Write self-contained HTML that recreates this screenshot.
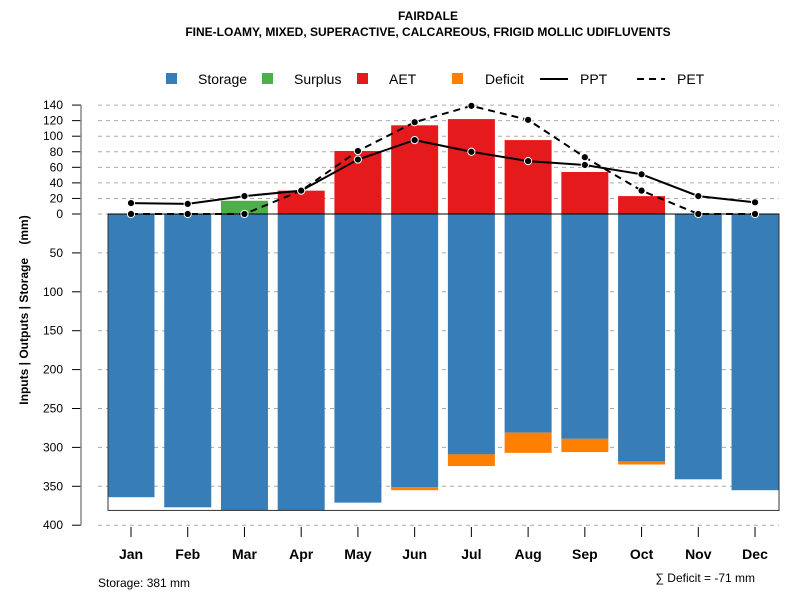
<!DOCTYPE html>
<html><head><meta charset="utf-8"><style>
body{margin:0;background:#fff}
svg{font-family:"Liberation Sans",Arial,sans-serif}
</style></head><body>
<svg id="c" width="800" height="600">
<text x="428" y="20" text-anchor="middle" font-size="12" font-weight="bold">FAIRDALE</text>
<text x="428" y="36" text-anchor="middle" font-size="12" font-weight="bold">FINE-LOAMY, MIXED, SUPERACTIVE, CALCAREOUS, FRIGID MOLLIC UDIFLUVENTS</text>
<g id="legend" font-size="14">
<rect x="166" y="73" width="11" height="11" fill="#377EB8"/><text x="198" y="84">Storage</text>
<rect x="262" y="73" width="11" height="11" fill="#4DAF4A"/><text x="294" y="84">Surplus</text>
<rect x="357" y="73" width="11" height="11" fill="#E41A1C"/><text x="389" y="84">AET</text>
<rect x="452" y="73" width="11" height="11" fill="#FF7F00"/><text x="485" y="84">Deficit</text>
<line x1="540" y1="79" x2="568" y2="79" stroke="#000" stroke-width="2"/><text x="580" y="84">PPT</text>
<line x1="637" y1="79" x2="665" y2="79" stroke="#000" stroke-width="2" stroke-dasharray="7,5"/><text x="677" y="84">PET</text>
</g>
<g id="g"></g>
<text transform="translate(28,310) rotate(-90)" text-anchor="middle" font-size="12" font-weight="bold">Inputs | Outputs | Storage&#160;&#160;&#160;&#160;(mm)</text>
<text x="98" y="587" font-size="12">Storage: 381 mm</text>
<text x="755" y="582" text-anchor="end" font-size="12">∑ Deficit = -71 mm</text>
</svg>
<script>
const months=["Jan","Feb","Mar","Apr","May","Jun","Jul","Aug","Sep","Oct","Nov","Dec"];
const storage=[364,377,381,381,371,351,309,281,289,318,341,355];
const deficit=[0,0,0,0,0,4,15,26,17,4,0,0];
const surplus=[0,0,17,0,0,0,0,0,0,0,0,0];
const aet=[0,0,0,30,81,114,122,95,54,23,0,0];
const ppt=[14,13,23,30,70,95,80,68,63,51,23,15];
const pet=[0,0,0,30,81,118,139,121,73,30,0,0];
const posTicks=[0,20,40,60,80,100,120,140];
const negTicks=[50,100,150,200,250,300,350,400];
const NS="http://www.w3.org/2000/svg",g=document.getElementById('g');
const y0=214,k=0.778;
const Y=v=>y0-v*k;
const X=i=>131+i*56.73;
const bw=47;
function el(t,a,name){const e=document.createElementNS(NS,t);for(const q in a)e.setAttribute(q,a[q]);


g.appendChild(e);return e;}
posTicks.forEach(v=>{el('line',{x1:98,x2:779,y1:Y(v),y2:Y(v),stroke:'#aaa','stroke-dasharray':'4,4'},'grid-line');
el('line',{x1:72,x2:81,y1:Y(v),y2:Y(v),stroke:'#000'},'y-tick');
const t=el('text',{x:63,y:Y(v)+4,'text-anchor':'end','font-size':12},'y-tick-label');t.textContent=v;});
negTicks.forEach(v=>{el('line',{x1:98,x2:779,y1:Y(-v),y2:Y(-v),stroke:'#aaa','stroke-dasharray':'4,4'},'grid-line');
el('line',{x1:72,x2:81,y1:Y(-v),y2:Y(-v),stroke:'#000'},'y-tick');
const t=el('text',{x:63,y:Y(-v)+4,'text-anchor':'end','font-size':12},'y-tick-label');t.textContent=v;});
el('line',{x1:81,x2:81,y1:Y(140),y2:Y(-400),stroke:'#888','stroke-width':1.5},'y-axis-line');
months.forEach((m,i)=>{const x=X(i)-bw/2;
el('rect',{x:x,y:y0,width:bw,height:storage[i]*k,fill:'#377EB8'},'bar-storage-'+m.toLowerCase());
if(deficit[i])el('rect',{x:x,y:Y(-storage[i]),width:bw,height:deficit[i]*k,fill:'#FF7F00'},'bar-deficit-'+m.toLowerCase());
if(surplus[i])el('rect',{x:x,y:Y(surplus[i]),width:bw,height:surplus[i]*k,fill:'#4DAF4A'},'bar-surplus-'+m.toLowerCase());
if(aet[i])el('rect',{x:x,y:Y(aet[i]),width:bw,height:aet[i]*k,fill:'#E41A1C'},'bar-aet-'+m.toLowerCase());
el('line',{x1:X(i),x2:X(i),y1:527,y2:537,stroke:'#000'},'x-tick');
const t=el('text',{x:X(i),y:559,'text-anchor':'middle','font-size':14,'font-weight':'bold'},'x-tick-label');t.textContent=m;});
el('rect',{x:108,y:y0,width:671,height:381*k,fill:'none',stroke:'#333'},'storage-box');
el('line',{x1:108,x2:779,y1:y0,y2:y0,stroke:'#000'},'zero-line');
el('polyline',{points:pet.map((v,i)=>X(i)+','+Y(v)).join(' '),fill:'none',stroke:'#000','stroke-width':2,'stroke-dasharray':'7,5'},'pet-line');
el('polyline',{points:ppt.map((v,i)=>X(i)+','+Y(v)).join(' '),fill:'none',stroke:'#000','stroke-width':2},'ppt-line');
pet.forEach((v,i)=>el('circle',{cx:X(i),cy:Y(v),r:3.6,fill:'#000',stroke:'#fff','stroke-width':1},'pet-point'));
ppt.forEach((v,i)=>el('circle',{cx:X(i),cy:Y(v),r:3.6,fill:'#000',stroke:'#fff','stroke-width':1},'ppt-point'));
</script>
</body></html>
